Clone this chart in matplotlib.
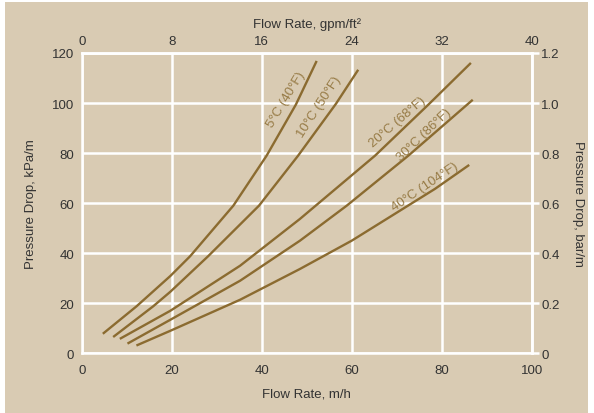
import numpy as np
import matplotlib
matplotlib.use('Agg')
import matplotlib.pyplot as plt
from matplotlib.patches import Rectangle

# ── data: pressure drop (kPa/m) vs flow rate (m/h) ──────────────────────────
flow_5c  = [4.9, 12.2, 19.7, 24.1, 33.7, 41.1, 47.6, 52.1]
dp_5c    = [8.1, 18.8, 30.9, 38.8, 59.0, 79.0, 99.4, 116.4]

flow_10c = [7.2, 15.9, 19.7, 28.1, 39.4, 48.1, 56.5, 61.3]
dp_10c   = [6.8, 18.8, 24.6, 38.8, 59.0, 79.0, 99.7, 112.9]

flow_20c = [8.7, 19.7, 35.2, 48.5, 65.2, 77.0, 86.3]
dp_20c   = [6.0, 17.0, 35.0, 53.7, 79.0, 99.3, 115.7]

flow_30c = [10.4, 19.7, 35.2, 48.5, 58.9, 72.6, 86.7]
dp_30c   = [4.1, 13.4, 29.0, 45.0, 59.0, 79.0, 101.0]

flow_40c = [12.4, 19.7, 35.2, 48.5, 60.0, 78.5, 85.9]
dp_40c   = [3.3, 9.0, 21.4, 33.7, 45.0, 65.7, 75.0]

curve_labels = ['5°C (40°F)', '10°C (50°F)', '20°C (68°F)', '30°C (86°F)', '40°C (104°F)']

x_ticks   = [0, 20, 40, 60, 80, 100]
y_ticks   = [0, 20, 40, 60, 80, 100, 120]
top_ticks = [0, 8, 16, 24, 32, 40]
bar_ticks = [0, 0.2, 0.4, 0.6, 0.8, 1.0, 1.2]
bar_labels = ['0', '0.2', '0.4', '0.6', '0.8', '1.0', '1.2']

# ── style ─────────────────────────────────────────────────────────────────────
TAN   = '#D9CBB3'
BROWN = '#8B6B30'
LBL   = '#977B46'
INK   = '#333333'
GRID_LW = 1.8
FS = 9.5

plt.rcParams['font.family'] = ['Liberation Sans', 'DejaVu Sans']
plt.rcParams['font.size'] = FS

fig = plt.figure(figsize=(5.94, 4.14), dpi=100, facecolor='white')
fig.patches.append(Rectangle((5/594, 0), 583/594, 411/414, transform=fig.transFigure,
                             facecolor=TAN, edgecolor='none', zorder=-10))

ax = fig.add_axes([81.7/594, 1 - 354.3/414, 450/594, 300.3/414])
ax.set_facecolor(TAN)

series = [(flow_5c, dp_5c), (flow_10c, dp_10c), (flow_20c, dp_20c),
          (flow_30c, dp_30c), (flow_40c, dp_40c)]
for fx, fy in series:
    ax.plot(fx, fy, color=BROWN, lw=1.7, solid_joinstyle='round', zorder=3)

# curve labels (screen-space rotation)
label_pos = [(45.3, 101.7, 59), (52.8, 98.9, 57), (70.2, 92.7, 41),
             (76.1, 87.7, 44), (76.3, 66.9, 34)]
for txt, (lx, ly, rot) in zip(curve_labels, label_pos):
    ax.text(lx, ly, txt, rotation=rot, rotation_mode='anchor', ha='center',
            va='center', color=LBL, fontsize=FS, zorder=4)

ax.set_xlim(0, 100)
ax.set_ylim(0, 120)
ax.set_xticks(x_ticks)
ax.set_yticks(y_ticks)
ax.grid(True, color='white', lw=GRID_LW, zorder=1)
ax.set_axisbelow(True)
for sp in ax.spines.values():
    sp.set_color('white')
    sp.set_linewidth(GRID_LW)
ax.tick_params(axis='both', length=0, colors=INK, labelsize=FS)
ax.tick_params(axis='x', pad=8)
ax.tick_params(axis='y', pad=5.5)

ax.set_xlabel('Flow Rate, m/h', color=INK, fontsize=FS, labelpad=8)
ax.set_ylabel('Pressure Drop, kPa/m', color=INK, fontsize=FS, labelpad=11)

# top axis: gpm/ft²
top = ax.secondary_xaxis('top', functions=(lambda v: v * 0.4, lambda v: v / 0.4))
top.set_xticks(top_ticks)
top.tick_params(length=0, colors=INK, labelsize=FS, pad=4)
top.spines['top'].set_color('white')
top.spines['top'].set_linewidth(GRID_LW)
top.set_xlabel('Flow Rate, gpm/ft²', color=INK, fontsize=FS, labelpad=6)

# right axis: bar/m
right = ax.secondary_yaxis('right', functions=(lambda v: v / 100, lambda v: v * 100))
right.set_yticks(bar_ticks)
right.set_yticklabels(bar_labels)
right.tick_params(length=5, width=GRID_LW, color='white', labelcolor=INK,
                  labelsize=FS, pad=2, direction='out')
right.spines['right'].set_color('white')
right.spines['right'].set_linewidth(GRID_LW)
right.set_ylabel('Pressure Drop, bar/m', color=INK, fontsize=FS, rotation=270,
                 labelpad=17)

fig.savefig('out.png', dpi=100, facecolor='white')
